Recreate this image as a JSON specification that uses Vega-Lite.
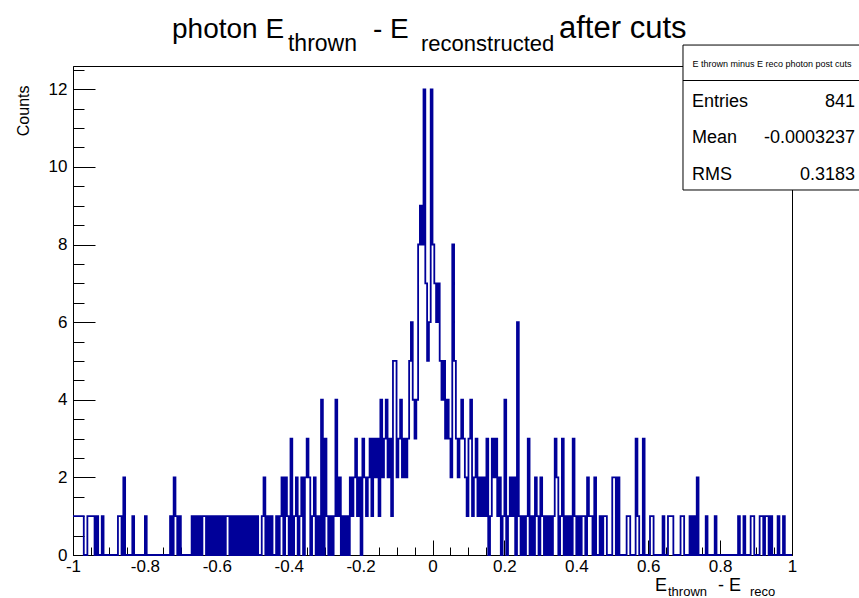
{
"$schema": "https://vega.github.io/schema/vega-lite/v6.json",
"width": 719, "height": 489,
"autosize": {"type": "none"},
"padding": {"left": 73, "top": 66, "right": 67, "bottom": 43},
"background": "white",
"config": {"view": {"stroke": "black", "strokeWidth": 1}, "font": "Liberation Sans",
 "axis": {"grid": false, "domainColor": "black", "tickColor": "black", "labelColor": "black", "titleColor": "black", "labelFont": "Liberation Sans", "titleFont": "Liberation Sans", "labelFontSize": 17, "titleFontWeight": "normal", "labelOverlap": false, "labelFlush": false, "labelBound": false, "zindex": 1}},
"data": {"values": [
{"x":-1,"n":1},{"x":-0.995,"n":1},{"x":-0.99,"n":1},{"x":-0.985,"n":1},{"x":-0.98,"n":1},{"x":-0.975,"n":1},{"x":-0.97,"n":0},{"x":-0.965,"n":0},{"x":-0.96,"n":1},{"x":-0.955,"n":1},
{"x":-0.95,"n":1},{"x":-0.945,"n":1},{"x":-0.94,"n":0},{"x":-0.935,"n":1},{"x":-0.93,"n":0},{"x":-0.925,"n":0},{"x":-0.92,"n":1},{"x":-0.915,"n":0},{"x":-0.91,"n":0},{"x":-0.905,"n":0},
{"x":-0.9,"n":0},{"x":-0.895,"n":0},{"x":-0.89,"n":0},{"x":-0.885,"n":0},{"x":-0.88,"n":0},{"x":-0.875,"n":1},{"x":-0.87,"n":1},{"x":-0.865,"n":0},{"x":-0.86,"n":2},{"x":-0.855,"n":0},
{"x":-0.85,"n":0},{"x":-0.845,"n":0},{"x":-0.84,"n":0},{"x":-0.835,"n":1},{"x":-0.83,"n":0},{"x":-0.825,"n":0},{"x":-0.82,"n":0},{"x":-0.815,"n":0},{"x":-0.81,"n":0},{"x":-0.805,"n":0},
{"x":-0.8,"n":1},{"x":-0.795,"n":0},{"x":-0.79,"n":0},{"x":-0.785,"n":0},{"x":-0.78,"n":0},{"x":-0.775,"n":0},{"x":-0.77,"n":0},{"x":-0.765,"n":0},{"x":-0.76,"n":0},{"x":-0.755,"n":0},
{"x":-0.75,"n":0},{"x":-0.745,"n":0},{"x":-0.74,"n":0},{"x":-0.735,"n":0},{"x":-0.73,"n":1},{"x":-0.725,"n":0},{"x":-0.72,"n":2},{"x":-0.715,"n":1},{"x":-0.71,"n":0},{"x":-0.705,"n":1},
{"x":-0.7,"n":0},{"x":-0.695,"n":0},{"x":-0.69,"n":0},{"x":-0.685,"n":0},{"x":-0.68,"n":0},{"x":-0.675,"n":0},{"x":-0.67,"n":1},{"x":-0.665,"n":0},{"x":-0.66,"n":1},{"x":-0.655,"n":0},
{"x":-0.65,"n":1},{"x":-0.645,"n":0},{"x":-0.64,"n":1},{"x":-0.635,"n":1},{"x":-0.63,"n":0},{"x":-0.625,"n":1},{"x":-0.62,"n":0},{"x":-0.615,"n":1},{"x":-0.61,"n":0},{"x":-0.605,"n":1},
{"x":-0.6,"n":0},{"x":-0.595,"n":1},{"x":-0.59,"n":0},{"x":-0.585,"n":1},{"x":-0.58,"n":0},{"x":-0.575,"n":1},{"x":-0.57,"n":1},{"x":-0.565,"n":0},{"x":-0.56,"n":1},{"x":-0.555,"n":0},
{"x":-0.55,"n":1},{"x":-0.545,"n":0},{"x":-0.54,"n":1},{"x":-0.535,"n":0},{"x":-0.53,"n":1},{"x":-0.525,"n":0},{"x":-0.52,"n":1},{"x":-0.515,"n":0},{"x":-0.51,"n":1},{"x":-0.505,"n":0},
{"x":-0.5,"n":1},{"x":-0.495,"n":0},{"x":-0.49,"n":1},{"x":-0.485,"n":0},{"x":-0.48,"n":0},{"x":-0.475,"n":1},{"x":-0.47,"n":2},{"x":-0.465,"n":0},{"x":-0.46,"n":1},{"x":-0.455,"n":0},
{"x":-0.45,"n":1},{"x":-0.445,"n":0},{"x":-0.44,"n":0},{"x":-0.435,"n":1},{"x":-0.43,"n":0},{"x":-0.425,"n":1},{"x":-0.42,"n":2},{"x":-0.415,"n":0},{"x":-0.41,"n":2},{"x":-0.405,"n":1},
{"x":-0.4,"n":0},{"x":-0.395,"n":3},{"x":-0.39,"n":0},{"x":-0.385,"n":1},{"x":-0.38,"n":2},{"x":-0.375,"n":0},{"x":-0.37,"n":1},{"x":-0.365,"n":2},{"x":-0.36,"n":0},{"x":-0.355,"n":2},
{"x":-0.35,"n":3},{"x":-0.345,"n":2},{"x":-0.34,"n":0},{"x":-0.335,"n":1},{"x":-0.33,"n":2},{"x":-0.325,"n":0},{"x":-0.32,"n":1},{"x":-0.315,"n":0},{"x":-0.31,"n":4},{"x":-0.305,"n":0},
{"x":-0.3,"n":3},{"x":-0.295,"n":1},{"x":-0.29,"n":0},{"x":-0.285,"n":1},{"x":-0.28,"n":0},{"x":-0.275,"n":1},{"x":-0.27,"n":4},{"x":-0.265,"n":1},{"x":-0.26,"n":2},{"x":-0.255,"n":0},
{"x":-0.25,"n":1},{"x":-0.245,"n":0},{"x":-0.24,"n":1},{"x":-0.235,"n":0},{"x":-0.23,"n":2},{"x":-0.225,"n":1},{"x":-0.22,"n":2},{"x":-0.215,"n":3},{"x":-0.21,"n":1},{"x":-0.205,"n":2},
{"x":-0.2,"n":0},{"x":-0.195,"n":3},{"x":-0.19,"n":2},{"x":-0.185,"n":1},{"x":-0.18,"n":2},{"x":-0.175,"n":3},{"x":-0.17,"n":1},{"x":-0.165,"n":3},{"x":-0.16,"n":2},{"x":-0.155,"n":3},
{"x":-0.15,"n":1},{"x":-0.145,"n":4},{"x":-0.14,"n":2},{"x":-0.135,"n":3},{"x":-0.13,"n":4},{"x":-0.125,"n":2},{"x":-0.12,"n":3},{"x":-0.115,"n":1},{"x":-0.11,"n":5},{"x":-0.105,"n":5},
{"x":-0.1,"n":2},{"x":-0.095,"n":3},{"x":-0.09,"n":4},{"x":-0.085,"n":2},{"x":-0.08,"n":3},{"x":-0.075,"n":2},{"x":-0.07,"n":3},{"x":-0.065,"n":5},{"x":-0.06,"n":6},{"x":-0.055,"n":4},
{"x":-0.05,"n":3},{"x":-0.045,"n":4},{"x":-0.04,"n":8},{"x":-0.035,"n":9},{"x":-0.03,"n":8},{"x":-0.025,"n":12},{"x":-0.02,"n":7},{"x":-0.015,"n":5},{"x":-0.01,"n":6},{"x":-0.005,"n":12},
{"x":0,"n":8},{"x":0.005,"n":7},{"x":0.01,"n":6},{"x":0.015,"n":7},{"x":0.02,"n":5},{"x":0.025,"n":4},{"x":0.03,"n":5},{"x":0.035,"n":3},{"x":0.04,"n":4},{"x":0.045,"n":3},
{"x":0.05,"n":2},{"x":0.055,"n":8},{"x":0.06,"n":5},{"x":0.065,"n":3},{"x":0.07,"n":2},{"x":0.075,"n":3},{"x":0.08,"n":4},{"x":0.085,"n":3},{"x":0.09,"n":2},{"x":0.095,"n":1},
{"x":0.1,"n":3},{"x":0.105,"n":4},{"x":0.11,"n":1},{"x":0.115,"n":2},{"x":0.12,"n":3},{"x":0.125,"n":1},{"x":0.13,"n":2},{"x":0.135,"n":1},{"x":0.14,"n":2},{"x":0.145,"n":1},
{"x":0.15,"n":3},{"x":0.155,"n":0},{"x":0.16,"n":1},{"x":0.165,"n":3},{"x":0.17,"n":2},{"x":0.175,"n":3},{"x":0.18,"n":1},{"x":0.185,"n":2},{"x":0.19,"n":0},{"x":0.195,"n":1},
{"x":0.2,"n":4},{"x":0.205,"n":0},{"x":0.21,"n":1},{"x":0.215,"n":2},{"x":0.22,"n":1},{"x":0.225,"n":2},{"x":0.23,"n":0},{"x":0.235,"n":6},{"x":0.24,"n":1},{"x":0.245,"n":0},
{"x":0.25,"n":1},{"x":0.255,"n":0},{"x":0.26,"n":1},{"x":0.265,"n":3},{"x":0.27,"n":0},{"x":0.275,"n":1},{"x":0.28,"n":0},{"x":0.285,"n":2},{"x":0.29,"n":1},{"x":0.295,"n":0},
{"x":0.3,"n":2},{"x":0.305,"n":1},{"x":0.31,"n":0},{"x":0.315,"n":1},{"x":0.32,"n":0},{"x":0.325,"n":1},{"x":0.33,"n":0},{"x":0.335,"n":1},{"x":0.34,"n":3},{"x":0.345,"n":2},
{"x":0.35,"n":0},{"x":0.355,"n":1},{"x":0.36,"n":3},{"x":0.365,"n":0},{"x":0.37,"n":1},{"x":0.375,"n":0},{"x":0.38,"n":1},{"x":0.385,"n":0},{"x":0.39,"n":3},{"x":0.395,"n":1},
{"x":0.4,"n":0},{"x":0.405,"n":1},{"x":0.41,"n":0},{"x":0.415,"n":1},{"x":0.42,"n":1},{"x":0.425,"n":0},{"x":0.43,"n":2},{"x":0.435,"n":1},{"x":0.44,"n":1},{"x":0.445,"n":0},
{"x":0.45,"n":2},{"x":0.455,"n":0},{"x":0.46,"n":0},{"x":0.465,"n":1},{"x":0.47,"n":0},{"x":0.475,"n":1},{"x":0.48,"n":1},{"x":0.485,"n":0},{"x":0.49,"n":0},{"x":0.495,"n":0},
{"x":0.5,"n":2},{"x":0.505,"n":2},{"x":0.51,"n":0},{"x":0.515,"n":2},{"x":0.52,"n":0},{"x":0.525,"n":0},{"x":0.53,"n":0},{"x":0.535,"n":0},{"x":0.54,"n":1},{"x":0.545,"n":1},
{"x":0.55,"n":0},{"x":0.555,"n":0},{"x":0.56,"n":0},{"x":0.565,"n":3},{"x":0.57,"n":1},{"x":0.575,"n":0},{"x":0.58,"n":0},{"x":0.585,"n":3},{"x":0.59,"n":0},{"x":0.595,"n":0},
{"x":0.6,"n":0},{"x":0.605,"n":1},{"x":0.61,"n":1},{"x":0.615,"n":0},{"x":0.62,"n":0},{"x":0.625,"n":0},{"x":0.63,"n":0},{"x":0.635,"n":0},{"x":0.64,"n":1},{"x":0.645,"n":0},
{"x":0.65,"n":0},{"x":0.655,"n":1},{"x":0.66,"n":1},{"x":0.665,"n":1},{"x":0.67,"n":0},{"x":0.675,"n":0},{"x":0.68,"n":0},{"x":0.685,"n":0},{"x":0.69,"n":1},{"x":0.695,"n":1},
{"x":0.7,"n":0},{"x":0.705,"n":0},{"x":0.71,"n":0},{"x":0.715,"n":1},{"x":0.72,"n":0},{"x":0.725,"n":1},{"x":0.73,"n":0},{"x":0.735,"n":2},{"x":0.74,"n":0},{"x":0.745,"n":0},
{"x":0.75,"n":0},{"x":0.755,"n":0},{"x":0.76,"n":1},{"x":0.765,"n":0},{"x":0.77,"n":0},{"x":0.775,"n":0},{"x":0.78,"n":0},{"x":0.785,"n":1},{"x":0.79,"n":0},{"x":0.795,"n":0},
{"x":0.8,"n":0},{"x":0.805,"n":0},{"x":0.81,"n":0},{"x":0.815,"n":0},{"x":0.82,"n":0},{"x":0.825,"n":0},{"x":0.83,"n":0},{"x":0.835,"n":0},{"x":0.84,"n":0},{"x":0.845,"n":0},
{"x":0.85,"n":1},{"x":0.855,"n":0},{"x":0.86,"n":0},{"x":0.865,"n":1},{"x":0.87,"n":0},{"x":0.875,"n":0},{"x":0.88,"n":0},{"x":0.885,"n":1},{"x":0.89,"n":1},{"x":0.895,"n":0},
{"x":0.9,"n":0},{"x":0.905,"n":0},{"x":0.91,"n":1},{"x":0.915,"n":1},{"x":0.92,"n":0},{"x":0.925,"n":1},{"x":0.93,"n":1},{"x":0.935,"n":0},{"x":0.94,"n":1},{"x":0.945,"n":0},
{"x":0.95,"n":0},{"x":0.955,"n":0},{"x":0.96,"n":1},{"x":0.965,"n":0},{"x":0.97,"n":0},{"x":0.975,"n":1},{"x":0.98,"n":0},{"x":0.985,"n":0},{"x":0.99,"n":0},{"x":0.995,"n":0},
{"x":1,"n":0}
]},
"resolve": {"axis": {"x": "independent", "y": "independent"}},
"layer": [
 {"mark": {"type": "line", "interpolate": "step-after", "color": "#000099", "strokeWidth": 1.8},
  "encoding": {
   "x": {"field": "x", "type": "quantitative", "scale": {"domain": [-1, 1], "nice": false, "zero": false},
     "axis": {"orient": "bottom", "values": [-1,-0.8,-0.6,-0.4,-0.2,0,0.2,0.4,0.6,0.8,1], "ticks": false, "tickSize": 0, "labelPadding": 3, "labelExpr": "'' + datum.value", "title": null, "domain": true}},
   "y": {"field": "n", "type": "quantitative", "scale": {"domain": [0, 12.6], "nice": false, "zero": true},
     "axis": {"orient": "left", "values": [0,2,4,6,8,10,12], "ticks": false, "tickSize": 0, "labelPadding": 6, "labelExpr": "'' + datum.value", "domain": true,
       "title": "Counts", "titleFontSize": 16, "titleAngle": -90, "titleAnchor": "end", "titleAlign": "right", "titleBaseline": "alphabetic", "titleX": -45, "titleY": 19}}
  }},
 {"mark": {"type": "line", "strokeOpacity": 0},
  "encoding": {
   "x": {"field": "x", "type": "quantitative", "axis": {"orient": "bottom", "values": [-1,-0.8,-0.6,-0.4,-0.2,0,0.2,0.4,0.6,0.8,1], "labels": false, "domain": false, "tickSize": -15, "title": null}},
   "y": {"field": "n", "type": "quantitative", "axis": {"orient": "left", "values": [0,2,4,6,8,10,12], "labels": false, "domain": false, "tickSize": -22, "title": null}}
  }},
 {"mark": {"type": "line", "strokeOpacity": 0},
  "encoding": {
   "x": {"field": "x", "type": "quantitative", "axis": {"orient": "bottom", "values": [-0.95,-0.9,-0.85,-0.75,-0.7,-0.65,-0.55,-0.5,-0.45,-0.35,-0.3,-0.25,-0.15,-0.1,-0.05,0.05,0.1,0.15,0.25,0.3,0.35,0.45,0.5,0.55,0.65,0.7,0.75,0.85,0.9,0.95], "labels": false, "domain": false, "tickSize": -8, "title": null}},
   "y": {"field": "n", "type": "quantitative", "axis": {"orient": "left", "values": [0.5,1,1.5,2.5,3,3.5,4.5,5,5.5,6.5,7,7.5,8.5,9,9.5,10.5,11,11.5,12.5], "labels": false, "domain": false, "tickSize": -11, "title": null}}
  }},
 {"data": {"values": [{}]}, "mark": {"type": "rect", "fill": "white", "stroke": "black", "strokeWidth": 1},
  "encoding": {"x": {"datum": 0.6968, "type": "quantitative", "axis": null}, "x2": {"datum": 1.3}, "y": {"datum": 13.14, "type": "quantitative", "axis": null}, "y2": {"datum": 9.405}}},
 {"data": {"values": [{}]}, "mark": {"type": "rule", "color": "black", "strokeWidth": 1},
  "encoding": {"x": {"datum": 0.6968, "type": "quantitative", "axis": null}, "x2": {"datum": 1.3}, "y": {"datum": 12.226, "type": "quantitative", "axis": null}}},
 {"data": {"values": [{}]}, "mark": {"type": "text", "text": "E thrown minus E reco photon post cuts", "fontSize": 9, "align": "center", "baseline": "alphabetic", "color": "black"},
  "encoding": {"x": {"datum": 0.9444, "type": "quantitative", "axis": null}, "y": {"datum": 12.582, "type": "quantitative", "axis": null}}},
 {"data": {"values": [{}]}, "mark": {"type": "text", "text": "Entries", "fontSize": 18, "align": "left", "baseline": "alphabetic", "color": "black"},
  "encoding": {"x": {"datum": 0.7218, "type": "quantitative", "axis": null}, "y": {"datum": 11.551, "type": "quantitative", "axis": null}}},
 {"data": {"values": [{}]}, "mark": {"type": "text", "text": "841", "fontSize": 18, "align": "right", "baseline": "alphabetic", "color": "black"},
  "encoding": {"x": {"datum": 1.1753, "type": "quantitative", "axis": null}, "y": {"datum": 11.551, "type": "quantitative", "axis": null}}},
 {"data": {"values": [{}]}, "mark": {"type": "text", "text": "Mean", "fontSize": 18, "align": "left", "baseline": "alphabetic", "color": "black"},
  "encoding": {"x": {"datum": 0.7218, "type": "quantitative", "axis": null}, "y": {"datum": 10.616, "type": "quantitative", "axis": null}}},
 {"data": {"values": [{}]}, "mark": {"type": "text", "text": "-0.0003237", "fontSize": 18, "align": "right", "baseline": "alphabetic", "color": "black"},
  "encoding": {"x": {"datum": 1.1753, "type": "quantitative", "axis": null}, "y": {"datum": 10.616, "type": "quantitative", "axis": null}}},
 {"data": {"values": [{}]}, "mark": {"type": "text", "text": "RMS", "fontSize": 18, "align": "left", "baseline": "alphabetic", "color": "black"},
  "encoding": {"x": {"datum": 0.7218, "type": "quantitative", "axis": null}, "y": {"datum": 9.662, "type": "quantitative", "axis": null}}},
 {"data": {"values": [{}]}, "mark": {"type": "text", "text": "0.3183", "fontSize": 18, "align": "right", "baseline": "alphabetic", "color": "black"},
  "encoding": {"x": {"datum": 1.1753, "type": "quantitative", "axis": null}, "y": {"datum": 9.662, "type": "quantitative", "axis": null}}},
 {"data": {"values": [{}]}, "mark": {"type": "text", "text": "photon E", "fontSize": 28, "align": "left", "baseline": "alphabetic", "color": "black"},
  "encoding": {"x": {"datum": -0.7246, "type": "quantitative", "axis": null}, "y": {"datum": 13.321, "type": "quantitative", "axis": null}}},
 {"data": {"values": [{}]}, "mark": {"type": "text", "text": "thrown", "fontSize": 23, "align": "left", "baseline": "alphabetic", "color": "black"},
  "encoding": {"x": {"datum": -0.402, "type": "quantitative", "axis": null}, "y": {"datum": 12.986, "type": "quantitative", "axis": null}}},
 {"data": {"values": [{}]}, "mark": {"type": "text", "text": "- E", "fontSize": 28, "align": "left", "baseline": "alphabetic", "color": "black"},
  "encoding": {"x": {"datum": -0.1655, "type": "quantitative", "axis": null}, "y": {"datum": 13.321, "type": "quantitative", "axis": null}}},
 {"data": {"values": [{}]}, "mark": {"type": "text", "text": "reconstructed", "fontSize": 22, "align": "left", "baseline": "alphabetic", "color": "black"},
  "encoding": {"x": {"datum": -0.032, "type": "quantitative", "axis": null}, "y": {"datum": 12.986, "type": "quantitative", "axis": null}}},
 {"data": {"values": [{}]}, "mark": {"type": "text", "text": "after cuts", "fontSize": 31, "align": "left", "baseline": "alphabetic", "color": "black"},
  "encoding": {"x": {"datum": 0.3519, "type": "quantitative", "axis": null}, "y": {"datum": 13.321, "type": "quantitative", "axis": null}}},
 {"data": {"values": [{}]}, "mark": {"type": "text", "text": "E", "fontSize": 18, "align": "left", "baseline": "alphabetic", "color": "black"},
  "encoding": {"x": {"datum": 0.6189, "type": "quantitative", "axis": null}, "y": {"datum": -0.928, "type": "quantitative", "axis": null}}},
 {"data": {"values": [{}]}, "mark": {"type": "text", "text": "thrown", "fontSize": 13, "align": "left", "baseline": "alphabetic", "color": "black"},
  "encoding": {"x": {"datum": 0.6551, "type": "quantitative", "axis": null}, "y": {"datum": -1.044, "type": "quantitative", "axis": null}}},
 {"data": {"values": [{}]}, "mark": {"type": "text", "text": "- E", "fontSize": 18, "align": "left", "baseline": "alphabetic", "color": "black"},
  "encoding": {"x": {"datum": 0.7942, "type": "quantitative", "axis": null}, "y": {"datum": -0.928, "type": "quantitative", "axis": null}}},
 {"data": {"values": [{}]}, "mark": {"type": "text", "text": "reco", "fontSize": 13, "align": "left", "baseline": "alphabetic", "color": "black"},
  "encoding": {"x": {"datum": 0.8832, "type": "quantitative", "axis": null}, "y": {"datum": -1.044, "type": "quantitative", "axis": null}}}
]
}
